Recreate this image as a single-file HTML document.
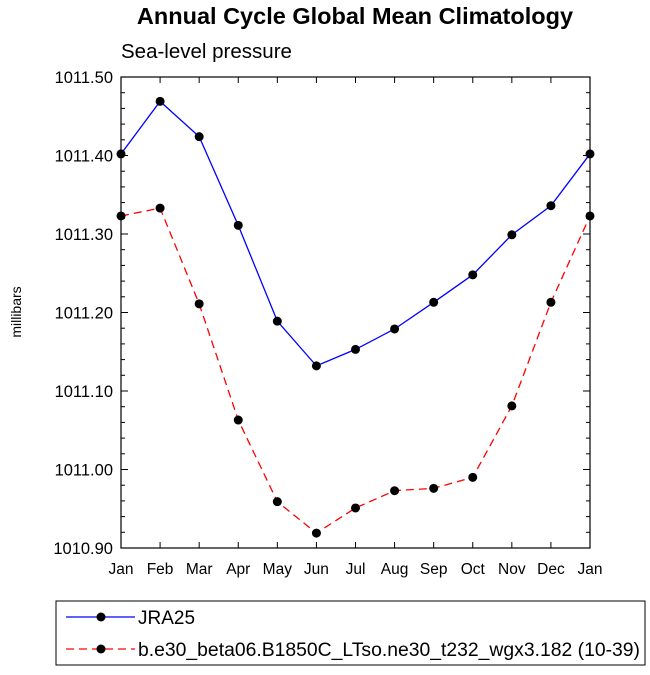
<!DOCTYPE html>
<html><head><meta charset="utf-8"><style>
body{margin:0;background:#fff;width:650px;height:670px;overflow:hidden}
svg text{font-family:"Liberation Sans",Arial,sans-serif}
</style></head><body>
<svg id="chart" width="650" height="670" xmlns="http://www.w3.org/2000/svg">
<text x="355" y="24" text-anchor="middle" font-size="23.5" font-weight="bold">Annual Cycle Global Mean Climatology</text>
<text x="121" y="58" font-size="20.5">Sea-level pressure</text>
<text transform="translate(21,312) rotate(-90)" text-anchor="middle" font-size="14">millibars</text>
<g id="ticks"></g>
<g id="series"></g>
<rect x="121" y="77" width="469" height="471" fill="none" stroke="#000" stroke-width="1.2"/>
<g>
<rect x="56" y="601" width="589" height="64" fill="none" stroke="#000" stroke-width="1"/>
<line x1="66" y1="617" x2="135" y2="617" stroke="#0000ff" stroke-width="1.3"/>
<circle cx="101" cy="617" r="4.5" fill="#000"/>
<text x="138" y="624" font-size="19">JRA25</text>
<line x1="66" y1="649" x2="135" y2="649" stroke="#ff0000" stroke-width="1.3" stroke-dasharray="8,5"/>
<circle cx="101" cy="649" r="4.5" fill="#000"/>
<text x="138" y="656" font-size="19" textLength="502" lengthAdjust="spacingAndGlyphs">b.e30_beta06.B1850C_LTso.ne30_t232_wgx3.182 (10-39)</text>
</g>
</svg>
<script>
const months=["Jan","Feb","Mar","Apr","May","Jun","Jul","Aug","Sep","Oct","Nov","Dec","Jan"];
const jra25=[1011.402,1011.469,1011.424,1011.311,1011.189,1011.132,1011.153,1011.179,1011.213,1011.248,1011.299,1011.336,1011.402];
const model=[1011.323,1011.333,1011.211,1011.063,1010.959,1010.919,1010.951,1010.973,1010.976,1010.990,1011.081,1011.213,1011.323];
const yTicks=[1010.90,1011.00,1011.10,1011.20,1011.30,1011.40,1011.50];
const yMin=1010.90,yMax=1011.50;
const L=121,R=590,T=77,B=548;
const NS="http://www.w3.org/2000/svg";
const xs=i=>L+(R-L)*i/(months.length-1);
const ys=v=>B-(v-yMin)/(yMax-yMin)*(B-T);
function mk(tag,attrs,parent){const e=document.createElementNS(NS,tag);for(const k in attrs)e.setAttribute(k,attrs[k]);parent.appendChild(e);return e;}
const tg=document.getElementById('ticks');
months.forEach((m,i)=>{
  const x=xs(i);
  const t=mk('line',{x1:x,y1:B,x2:x,y2:B-6,stroke:'#000'},tg);
  
  
  const t2=mk('line',{x1:x,y1:T,x2:x,y2:T+6,stroke:'#000'},tg);
  
  
  const l=mk('text',{x:x,y:B+26,'text-anchor':'middle','font-size':'15.5'},tg);
  l.textContent=m;
  
  
});
for(let v=yMin;v<=yMax+1e-6;v+=0.02){
  const y=ys(v);const major=Math.abs(Math.round(v*10)/10-v)<1e-6;const len=major?7:4;
  const a=mk('line',{x1:L,y1:y,x2:L+len,y2:y,stroke:'#000'},tg);
  
  
  const b=mk('line',{x1:R,y1:y,x2:R-len,y2:y,stroke:'#000'},tg);
  
  
}
yTicks.forEach(v=>{
  const l=mk('text',{x:L-8,y:ys(v)+6,'text-anchor':'end','font-size':'16.5'},tg);
  l.textContent=v.toFixed(2);
  
  
});
const sg=document.getElementById('series');
function draw(data,color,dash,name){
  const p=mk('polyline',{points:data.map((v,i)=>xs(i)+','+ys(v)).join(' '),fill:'none',stroke:color,'stroke-width':1.3,'stroke-dasharray':dash},sg);
  
  
  data.forEach((v,i)=>{
    const c=mk('circle',{cx:xs(i),cy:ys(v),r:4.5,fill:'#000'},sg);
    
    
  });
}
draw(jra25,'#0000ff','none','jra25');
draw(model,'#ff0000','8,5','model');
</script>
</body></html>
